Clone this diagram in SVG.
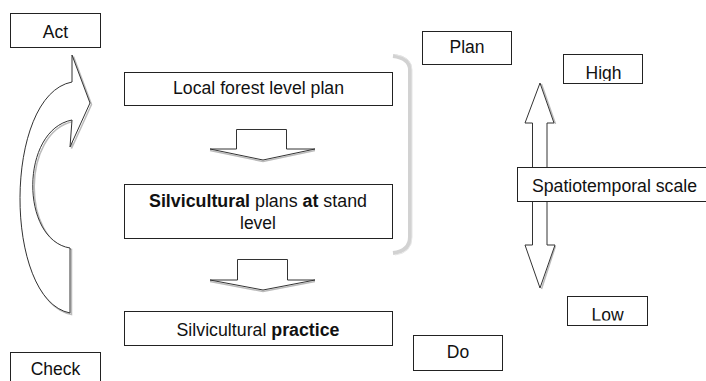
<svg xmlns="http://www.w3.org/2000/svg" width="706" height="381" viewBox="0 0 706 381">
<style>
.box{fill:#fff;stroke:#222;stroke-width:1}
.t{font-family:"Liberation Sans",Arial,sans-serif;font-size:17.5px;fill:#111;text-anchor:middle}
.b{font-weight:bold}
.arr{fill:#fff;stroke:#333;stroke-width:1;stroke-linejoin:miter}
.sh{fill:none;stroke:#bbb;stroke-width:1.5}
</style>
<defs>
<clipPath id="clipHigh"><rect x="563" y="54" width="80" height="27"/></clipPath>
<clipPath id="clipLow"><rect x="567" y="296" width="80" height="24.5"/></clipPath>
</defs>
<g id="connectors">
<g id="cycle-arrow">
<path class="sh" transform="translate(1.5,1.5)" d="M70,313 C3,300 3,95 72,82 L72,55 L90,103 L70,147 L72,120 C20,130 20,240 70,248 Z"/>
<path class="arr" d="M70,313 C3,300 3,95 72,82 L72,55 L90,103 L70,147 L72,120 C20,130 20,240 70,248 Z"/>
</g>
<g id="down-arrow-1">
<path class="sh" transform="translate(0,1.5)" d="M210,149 L263,160 L315,149"/>
<path class="arr" d="M236.5,129.5 H286.5 V149 H315 L263,160 L210,149 H236.5 Z"/>
</g>
<g id="down-arrow-2">
<path class="sh" transform="translate(0,1.5)" d="M210,280 L263,290 L315,280"/>
<path class="arr" d="M237.5,259.5 H287.5 V280 H315 L263,290 L210,280 H237.5 Z"/>
</g>
<g id="scale-arrow">
<path class="sh" transform="translate(1.5,1)" d="M540,83 L554,123 M554,245 L540,288"/>
<path class="arr" d="M540,83 L554,123 H547 V245 H555 L540,288 L525,245 H532.5 V123 H525 Z"/>
</g>
<g id="plan-bracket">
<path d="M393,56 Q410,58 410,70 V237 Q410,251 393,253" fill="none" stroke="#d2d2d2" stroke-width="4"/>
<path d="M395,54.5 Q412,57 412,70 V237 Q412,253 395,255" fill="none" stroke="#e6e6e6" stroke-width="1"/>
</g>
</g>
<g id="act">
<rect class="box" x="10.5" y="13.5" width="90" height="34"/>
<text class="t" x="55.5" y="38">Act</text>
</g>
<g id="check">
<rect class="box" x="10.5" y="352.5" width="90" height="40"/>
<text class="t" x="55.5" y="375">Check</text>
</g>
<g id="local-forest">
<rect class="box" x="124.5" y="72.5" width="268" height="33"/>
<text class="t" x="258.5" y="94" textLength="171" lengthAdjust="spacingAndGlyphs">Local forest level plan</text>
</g>
<g id="silvicultural-plans">
<rect class="box" x="124.5" y="184.5" width="268" height="54"/>
<text class="t" x="258" y="207" textLength="218" lengthAdjust="spacingAndGlyphs"><tspan class="b">Silvicultural</tspan> plans <tspan class="b">at</tspan> stand</text>
<text class="t" x="258" y="229">level</text>
</g>
<g id="silvicultural-practice">
<rect class="box" x="124.5" y="311.5" width="268" height="34"/>
<text class="t" x="258" y="336" textLength="163" lengthAdjust="spacingAndGlyphs">Silvicultural <tspan class="b">practice</tspan></text>
</g>
<g id="plan">
<rect class="box" x="422.5" y="31.5" width="89" height="33"/>
<text class="t" x="467" y="53">Plan</text>
</g>
<g id="do">
<rect class="box" x="413.5" y="335.5" width="89" height="35"/>
<text class="t" x="458" y="358">Do</text>
</g>
<g id="high">
<rect class="box" x="563.5" y="54.5" width="79" height="29"/>
<text class="t" x="603.5" y="79" clip-path="url(#clipHigh)">High</text>
</g>
<g id="spatiotemporal">
<rect class="box" x="517.5" y="167.5" width="200" height="34"/>
<text class="t" x="614.5" y="192" textLength="165" lengthAdjust="spacingAndGlyphs">Spatiotemporal scale</text>
</g>
<g id="low">
<rect class="box" x="567.5" y="296.5" width="80" height="29"/>
<text class="t" x="607.5" y="321" clip-path="url(#clipLow)">Low</text>
</g>
</svg>
